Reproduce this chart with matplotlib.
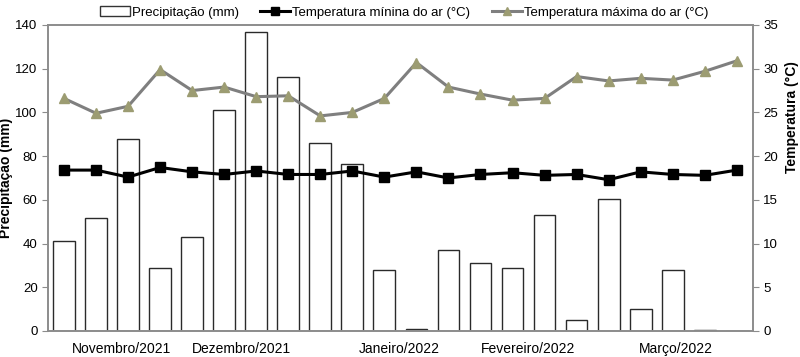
import numpy as np
import matplotlib
matplotlib.use("Agg")
from matplotlib import pyplot as plt
from matplotlib.lines import Line2D
from matplotlib.patches import Patch

plt.rcParams['font.family'] = ['Liberation Sans', 'DejaVu Sans']

# precipitation per period (mm)
precip = [41, 51.5, 88, 29, 43, 101, 137, 116, 86, 76.5, 28,
          1, 37, 31, 29, 53, 5, 60.5, 10, 28, 0.5, 0]
# air temperature (°C)
tmin = [18.4, 18.4, 17.6, 18.7, 18.2, 17.9, 18.3, 17.9, 17.9, 18.3, 17.6,
        18.2, 17.5, 17.9, 18.1, 17.8, 17.9, 17.3, 18.2, 17.9, 17.8, 18.4]
tmax = [26.6, 24.9, 25.7, 29.9, 27.5, 27.9, 26.8, 26.9, 24.6, 25.0, 26.6,
        30.7, 27.9, 27.1, 26.4, 26.6, 29.1, 28.6, 28.9, 28.7, 29.7, 30.9]
months = ["Novembro/2021", "Dezembro/2021", "Janeiro/2022",
          "Fevereiro/2022", "Março/2022"]
month_pos = [1.8, 5.55, 10.45, 14.5, 19.1]

x = np.arange(len(precip))
gray = '#8c8c8c'

fig = plt.figure(figsize=(8, 3.57), dpi=100)
ax = fig.add_axes([0.06, 0.073, 0.881, 0.857])
ax.bar(x, precip, width=0.68, color='white', edgecolor='#2a2a2a', linewidth=1.0, zorder=1)
ax.set_xlim(-0.5, len(precip) - 0.5)
ax.set_ylim(0, 140)
ax.set_yticks(range(0, 141, 20))
ax.set_ylabel("Precipitação (mm)", fontsize=10, fontweight='bold')
ax.yaxis.set_label_coords(-0.05, 0.5)
ax.set_xticks(month_pos)
ax.set_xticklabels(months, fontsize=10)
ax.tick_params(axis='x', length=0, pad=8)
ax.tick_params(axis='y', direction='out', length=4, color=gray, labelsize=9.5)

ax2 = ax.twinx()
ax2.plot(x, tmax, color='#7f7f7f', linewidth=2.2, marker='^', markersize=7,
         markerfacecolor='#9c9c72', markeredgecolor='#9c9c72', zorder=3)
ax2.plot(x, tmin, color='black', linewidth=2.2, marker='s', markersize=7.5, zorder=4)
ax2.set_ylim(0, 35)
ax2.set_yticks(range(0, 36, 5))
ax2.set_ylabel("Temperatura (°C)", fontsize=10, fontweight='bold')
ax2.yaxis.set_label_coords(1.045, 0.70)
ax2.tick_params(axis='y', direction='out', length=4, color=gray, labelsize=9.5)

for a in (ax, ax2):
    for s in a.spines.values():
        s.set_color(gray)
        s.set_linewidth(1.2)

handles = [Patch(facecolor='white', edgecolor='#333333', linewidth=1.0),
           Line2D([], [], color='black', linewidth=2.2, marker='s', markersize=6),
           Line2D([], [], color='#7f7f7f', linewidth=2.2, marker='^', markersize=6,
                  markerfacecolor='#9c9c72', markeredgecolor='#9c9c72')]
labels = ["Precipitação (mm)", "Temperatura mínina do ar (°C)",
          "Temperatura máxima do ar (°C)"]
fig.legend(handles, labels, loc='center', bbox_to_anchor=(0.505, 0.965), ncol=3,
           frameon=False, fontsize=9.5, handlelength=2.3, handletextpad=0.15,
           columnspacing=1.6, borderaxespad=0)

fig.savefig("out.png", dpi=100)
